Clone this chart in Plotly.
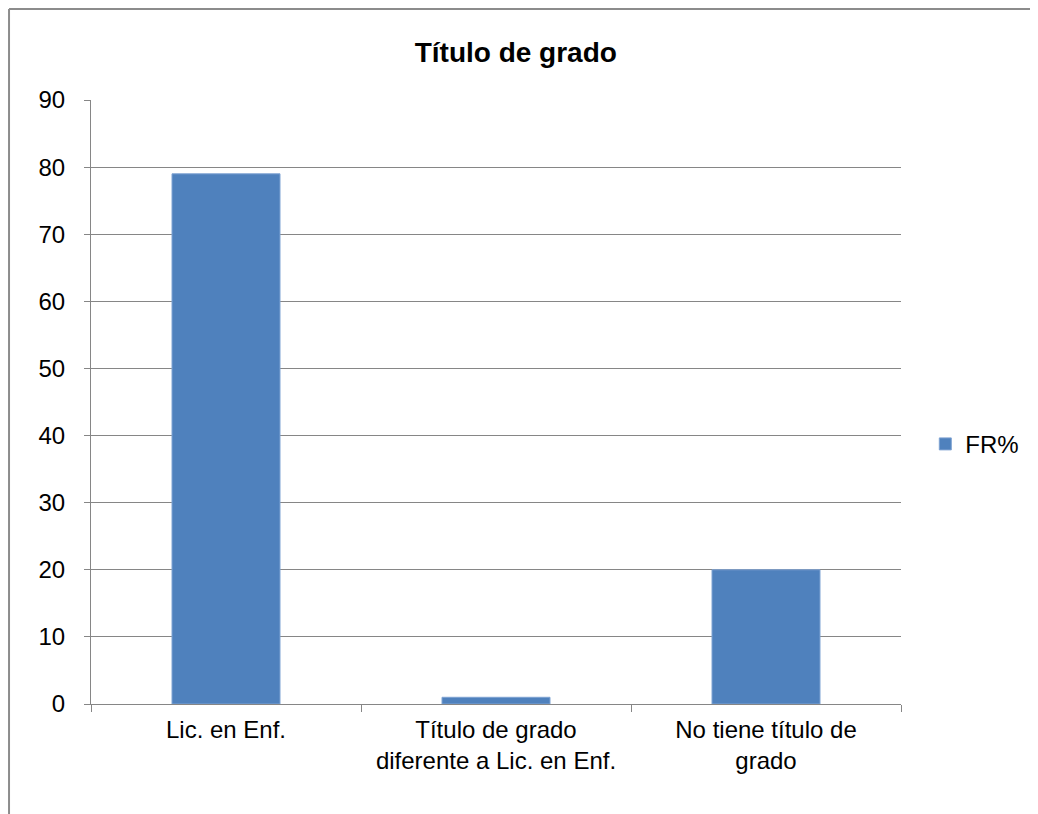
import plotly.graph_objects as go

# Data
categories = ["Lic. en Enf.", "Título de grado<br>diferente a Lic. en Enf.", "No tiene título de<br>grado"]
fr_pct = [79, 1, 20]
y_ticks = [0, 10, 20, 30, 40, 50, 60, 70, 80, 90]

bar_color = "#4f81bd"
grid_color = "#868686"

fig = go.Figure()
fig.add_trace(go.Bar(
    x=categories, y=fr_pct, name="FR%",
    marker=dict(color=bar_color, line=dict(color="#7fa3d3", width=1)),
    showlegend=True,
))

# page body has an 8px margin, so the figure is shifted by 8px
fig.update_layout(
    width=1030, height=806,
    margin=dict(l=83, r=137, t=92, b=110, autoexpand=False),
    paper_bgcolor="white", plot_bgcolor="white",
    font=dict(family="Liberation Sans, Arial", size=24, color="black"),
    title=dict(text="<b>Título de grado</b>", x=0.493, xanchor="center",
               y=0.945, yanchor="middle", font=dict(size=28, color="black")),
    bargap=0.6,
    showlegend=True,
    legend=dict(x=1.03, y=0.43, xanchor="left", yanchor="middle",
                font=dict(size=24), itemwidth=30, bgcolor="rgba(0,0,0,0)"),
    xaxis=dict(showline=True, linecolor=grid_color, linewidth=1,
               ticks="outside", tickson="boundaries", ticklen=7, tickcolor=grid_color,
               showgrid=False, fixedrange=True, ticklabelstandoff=4),
    yaxis=dict(range=[0, 90], tickvals=y_ticks, showline=True, linecolor=grid_color,
               linewidth=1, ticks="outside", ticklen=6, tickcolor=grid_color,
               showgrid=True, gridcolor=grid_color, gridwidth=1, zeroline=False,
               ticklabelstandoff=14),
    shapes=[
        dict(type="line", xref="paper", yref="paper", x0=-0.1012, x1=1.2,
             y0=1.1507, y1=1.1507, line=dict(color="#8c8c8c", width=2)),
        dict(type="line", xref="paper", yref="paper", x0=-0.1012, x1=-0.1012,
             y0=1.1507, y1=-0.2, line=dict(color="#8c8c8c", width=2)),
    ],
)

fig.write_html("out.html")
